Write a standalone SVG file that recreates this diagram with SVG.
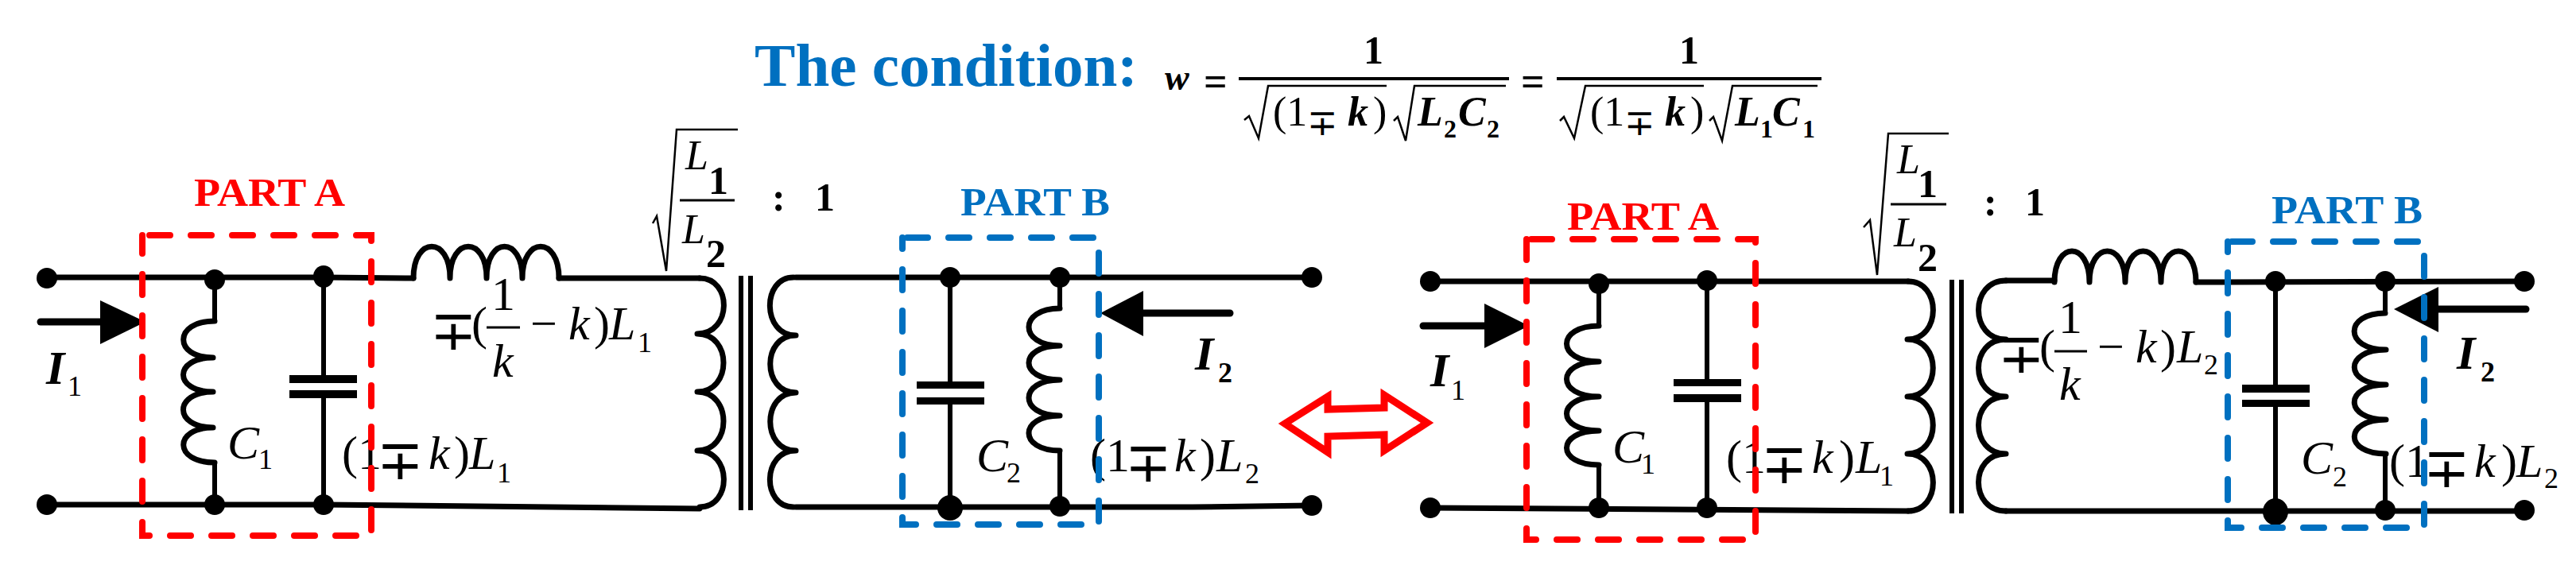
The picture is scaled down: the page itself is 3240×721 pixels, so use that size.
<svg xmlns="http://www.w3.org/2000/svg" width="3240" height="721" viewBox="0 0 3240 721">
<style>
text{font-family:"Liberation Serif","Times New Roman",serif;fill:#000}
.i{font-style:italic}.b{font-weight:bold}.bi{font-style:italic;font-weight:bold}
.f60{font-size:60px}.f36{font-size:36px}.f50{font-size:50px}.f52{font-size:52px}.f32{font-size:32px}
.mp{font-family:"Inter","DejaVu Sans",sans-serif;font-weight:200;font-style:normal;font-size:70px}
.mq{font-family:"Inter","DejaVu Sans",sans-serif;font-weight:200;font-style:normal;font-size:46px}
.w{fill:none;stroke:#000;stroke-width:7;stroke-linecap:round;stroke-linejoin:round}
.t{fill:none;stroke:#000;stroke-width:6}
.s{fill:none;stroke:#000;stroke-width:2.5}
.bar{fill:none;stroke:#000;stroke-width:3}
.d{fill:#000;stroke:none}
.boxa{fill:none;stroke:#f00;stroke-width:8;stroke-dasharray:26 26;stroke-linecap:round}
.boxb{fill:none;stroke:#0070c0;stroke-width:8;stroke-dasharray:26 26;stroke-linecap:round}
.ra{fill:#f00;font-weight:bold;font-size:50px}.rb{fill:#0070c0;font-weight:bold;font-size:50px}
</style>
<g id="title"><text x="949" y="108" class="b" font-size="77" style="fill:#0070c0" textLength="482" lengthAdjust="spacingAndGlyphs">The condition:</text></g>
<g id="formula">
<text y="113" class="bi" font-size="46"><tspan x="1465">w</tspan></text>
<text y="120" class="b" font-size="52"><tspan x="1514">=</tspan><tspan x="1913">=</tspan></text>
<path class="bar" d="M1558 99H1898M1958 99H2291" style="stroke-width:4"/>
<text y="80" class="b f50"><tspan x="1715">1</tspan><tspan x="2112">1</tspan></text>
<path class="s" d="M1565 151L1571 146L1583 174L1595 108H1744M1753 152L1758 147L1768 177L1779 108H1894M1962 152L1967 147L1980 174L1994 108H2143M2150 152L2155 147L2166 177L2179 108H2286"/>
<text y="158" class="f52"><tspan x="1601">(1</tspan><tspan x="1644" dy="12" class="mq">∓</tspan><tspan x="1695" dy="-12" class="bi">k</tspan><tspan x="1727">)</tspan><tspan x="1783" class="bi">L</tspan><tspan x="1834" class="bi">C</tspan><tspan x="2000">(1</tspan><tspan x="2043" dy="12" class="mq">∓</tspan><tspan x="2094" dy="-12" class="bi">k</tspan><tspan x="2126">)</tspan><tspan x="2182" class="bi">L</tspan><tspan x="2229" class="bi">C</tspan></text>
<text y="173" class="b f32"><tspan x="1816">2</tspan><tspan x="1870">2</tspan><tspan x="2214">1</tspan><tspan x="2267">1</tspan></text>
</g>
<g id="connectors">
<path class="w" d="M59 349L270 349L407 349L520 350M703 350H880M59 635L407 635L880 640M1001 349H1650M1001 638H1500L1650 636"/>
<path class="t" d="M270 352V404M270 582V635M407 348V475M407 498V635M1195 349V482M1195 507V639M1333 349V388M1333 567V637"/>
<path class="w" d="M1799 354H2011M2011 354H2400M1799 639L2400 643M2523 353H2584M2762 355L3175 354M2523 643H3175"/>
<path class="t" d="M2011 357V410M2011 585V639M2147 353V480M2147 504V639M2862 354V486M2862 510V644M3000 354V394M3000 571V642"/>
</g>
<g id="left-input-arrow"><path class="w" d="M51 405H126" style="stroke-width:9"/><path class="d" d="M126 378V433L183 405Z"/>
<text x="58" y="483" class="bi f60">I</text><text x="85" y="498" class="f36">1</text></g>
<g id="left-terminals"><ellipse class="d" cx="59" cy="350" rx="13" ry="13"/><ellipse class="d" cx="59" cy="635" rx="13" ry="13"/><ellipse class="d" cx="1650" cy="349" rx="13" ry="13"/><ellipse class="d" cx="1650" cy="636" rx="13" ry="13"/></g>
<g id="left-part-a-dots"><ellipse class="d" cx="270" cy="352" rx="13" ry="13"/><ellipse class="d" cx="407" cy="348" rx="13" ry="14"/><ellipse class="d" cx="270" cy="635" rx="13" ry="13"/><ellipse class="d" cx="407" cy="635" rx="13" ry="13"/></g>
<g id="left-part-a-inductor"><path class="w" d="M270 404C218 404 218 450 268 450C218 450 218 493 268 493C218 493 218 538 268 538C218 538 218 582 270 582"/><text x="286" y="577" class="i f60">C</text><text x="325" y="590" class="f36">1</text></g>
<g id="left-part-a-capacitor"><rect class="d" x="364" y="472" width="85" height="10"/><rect class="d" x="364" y="491" width="85" height="10"/><text y="590" class="f60"><tspan x="430">(1</tspan><tspan x="474" dy="13" class="mp">∓</tspan><tspan x="539" dy="-13" class="i">k</tspan><tspan x="571">)</tspan><tspan x="590" class="i">L</tspan></text><text x="625" y="607" class="f36">1</text></g>
<g id="left-series-inductor"><path class="w" d="M520 350C520 297 566 297 566 350C566 297 612 297 612 350C612 297 657 297 657 350C657 297 703 297 703 350"/>
<text y="427" class="f60"><tspan x="541" dy="13" class="mp">∓</tspan><tspan x="593" dy="-13">(</tspan><tspan x="667">−</tspan><tspan x="715" class="i">k</tspan><tspan x="747">)</tspan><tspan x="766" class="i">L</tspan></text><text x="618" y="390" class="f60">1</text><path class="bar" d="M612 412H654"/><text x="619" y="474" class="i f60">k</text><text x="802" y="443" class="f36">1</text></g>
<g id="left-transformer">
<path class="w" d="M880 350C921 350 921 420 877 420C921 420 921 493 877 493C921 493 921 567 877 567C921 567 921 638 880 638M998 349C958 349 958 422 1001 422C958 422 958 494 1001 494C958 494 958 567 1001 567C958 567 958 638 998 638"/>
<path class="t" d="M932 347V642M944 347V642"/>
<path class="s" d="M821 281L826 272L838 341L851 163H928"/><path class="bar" d="M855 252H924"/>
<text x="862" y="213" class="i f52">L</text><text x="891" y="244" class="b f50">1</text><text x="858" y="306" class="i f52">L</text><text x="888" y="336" class="b f50">2</text>
<text x="971" y="265" class="b f50">:</text><text x="1025" y="265" class="b f50">1</text></g>
<g id="left-part-b-capacitor"><rect class="d" x="1153" y="480" width="85" height="9"/><rect class="d" x="1153" y="500" width="85" height="9"/><text x="1228" y="593" class="i f60">C</text><text x="1266" y="607" class="f36">2</text></g>
<g id="left-part-b-inductor"><path class="w" d="M1333 388C1281 388 1281 435 1333 435C1281 435 1281 478 1333 478C1281 478 1281 523 1333 523C1281 523 1281 567 1333 567"/><text y="593" class="f60"><tspan x="1371">(1</tspan><tspan x="1415" dy="13" class="mp">∓</tspan><tspan x="1477" dy="-13" class="i">k</tspan><tspan x="1509">)</tspan><tspan x="1530" class="i">L</tspan></text><text x="1566" y="608" class="f36">2</text></g>
<g id="left-part-b-dots"><ellipse class="d" cx="1195" cy="349" rx="13" ry="13"/><ellipse class="d" cx="1333" cy="349" rx="13" ry="13"/><ellipse class="d" cx="1195" cy="639" rx="16" ry="16"/><ellipse class="d" cx="1333" cy="637" rx="13" ry="13"/></g>
<g id="left-output-arrow"><path class="w" d="M1547 394H1438" style="stroke-width:9"/><path class="d" d="M1438 366V423L1384 394Z"/><text x="1503" y="465" class="bi f60">I</text><text x="1532" y="481" class="b f36">2</text></g>
<g id="left-part-a-box"><path class="boxa" d="M188 296H467V674H179V296"/><text class="ra" x="244" y="259" textLength="190" lengthAdjust="spacingAndGlyphs">PART A</text></g>
<g id="left-part-b-box"><path class="boxb" d="M1141 299H1382V660H1135V299"/><text class="rb" x="1208" y="271" textLength="188" lengthAdjust="spacingAndGlyphs">PART B</text></g>
<g id="equivalence-arrow"><path d="M1616 533L1670 499V515L1741 513V497L1795 532L1741 567V547L1670 549V569Z" fill="#fff" stroke="#f00" stroke-width="9" stroke-linejoin="miter"/></g>
<g id="right-input-arrow"><path class="w" d="M1790 410H1867" style="stroke-width:9"/><path class="d" d="M1867 382V438L1923 410Z"/><text x="1799" y="486" class="bi f60">I</text><text x="1825" y="503" class="f36">1</text></g>
<g id="right-terminals"><ellipse class="d" cx="1799" cy="354" rx="13" ry="13"/><ellipse class="d" cx="1799" cy="639" rx="13" ry="13"/><ellipse class="d" cx="3175" cy="354" rx="13" ry="13"/><ellipse class="d" cx="3175" cy="642" rx="13" ry="13"/></g>
<g id="right-part-a-dots"><ellipse class="d" cx="2011" cy="357" rx="13" ry="13"/><ellipse class="d" cx="2147" cy="353" rx="13" ry="13"/><ellipse class="d" cx="2011" cy="639" rx="13" ry="13"/><ellipse class="d" cx="2147" cy="639" rx="13" ry="13"/></g>
<g id="right-part-a-inductor"><path class="w" d="M2011 410C1957 410 1957 455 2011 455C1957 455 1957 499 2011 499C1957 499 1957 542 2011 542C1957 542 1957 585 2011 585"/><text x="2028" y="582" class="i f60">C</text><text x="2064" y="596" class="f36">1</text></g>
<g id="right-part-a-capacitor"><rect class="d" x="2105" y="477" width="85" height="9"/><rect class="d" x="2105" y="496" width="85" height="10"/><text y="595" class="f60"><tspan x="2171">(1</tspan><tspan x="2215" dy="13" class="mp">∓</tspan><tspan x="2279" dy="-13" class="i">k</tspan><tspan x="2313">)</tspan><tspan x="2334" class="i">L</tspan></text><text x="2364" y="611" class="f36">1</text></g>
<g id="right-transformer">
<path class="w" d="M2400 354C2442 354 2442 427 2399 427C2442 427 2442 499 2399 499C2442 499 2442 571 2399 571C2442 571 2442 643 2400 643M2523 353C2477 353 2477 427 2523 427C2477 427 2477 499 2523 499C2477 499 2477 571 2523 571C2477 571 2477 643 2523 643"/>
<path class="t" d="M2455 352V646M2467 352V646"/>
<path class="s" d="M2344 286L2352 277L2361 346L2375 168H2451"/><path class="bar" d="M2378 257H2448"/>
<text x="2386" y="218" class="i f52">L</text><text x="2412" y="248" class="b f50">1</text><text x="2382" y="310" class="i f52">L</text><text x="2412" y="341" class="b f50">2</text>
<text x="2495" y="271" class="b f50">:</text><text x="2547" y="271" class="b f50">1</text></g>
<g id="right-series-inductor"><path class="w" d="M2584 355C2584 303 2628 303 2628 355C2628 303 2673 303 2673 355C2673 303 2718 303 2718 355C2718 303 2762 303 2762 355"/>
<text y="456" class="f60"><tspan x="2513" dy="13" class="mp">∓</tspan><tspan x="2565" dy="-13">(</tspan><tspan x="2638">−</tspan><tspan x="2686" class="i">k</tspan><tspan x="2717">)</tspan><tspan x="2738" class="i">L</tspan></text><text x="2589" y="419" class="f60">1</text><path class="bar" d="M2584 442H2625"/><text x="2590" y="503" class="i f60">k</text><text x="2772" y="471" class="f36">2</text></g>
<g id="right-part-b-capacitor"><rect class="d" x="2820" y="484" width="85" height="10"/><rect class="d" x="2820" y="503" width="85" height="9"/><text x="2894" y="596" class="i f60">C</text><text x="2934" y="612" class="f36">2</text></g>
<g id="right-part-b-inductor"><path class="w" d="M3000 394C2948 394 2948 440 3001 440C2948 440 2948 484 3001 484C2948 484 2948 528 3001 528C2948 528 2948 571 3001 571"/><text y="600" class="f60"><tspan x="3005">(1</tspan><tspan x="3048" dy="13" class="mp">∓</tspan><tspan x="3112" dy="-13" class="i">k</tspan><tspan x="3146">)</tspan><tspan x="3165" class="i">L</tspan></text><text x="3200" y="614" class="f36">2</text></g>
<g id="right-part-b-dots"><ellipse class="d" cx="2862" cy="354" rx="13" ry="13"/><ellipse class="d" cx="3000" cy="354" rx="13" ry="13"/><ellipse class="d" cx="2862" cy="644" rx="16" ry="17"/><ellipse class="d" cx="3000" cy="642" rx="13" ry="13"/></g>
<g id="right-output-arrow"><path class="w" d="M3177 389H3067" style="stroke-width:9"/><path class="d" d="M3067 361V418L3011 389Z"/><text x="3090" y="464" class="bi f60">I</text><text x="3120" y="480" class="b f36">2</text></g>
<g id="right-part-a-box"><path class="boxa" d="M1926 301H2208V679H1920V301"/><text class="ra" x="1971" y="289" textLength="191" lengthAdjust="spacingAndGlyphs">PART A</text></g>
<g id="right-part-b-box"><path class="boxb" d="M2807 304H3049V664H2802V304"/><text class="rb" x="2857" y="281" textLength="190" lengthAdjust="spacingAndGlyphs">PART B</text></g>
</svg>
